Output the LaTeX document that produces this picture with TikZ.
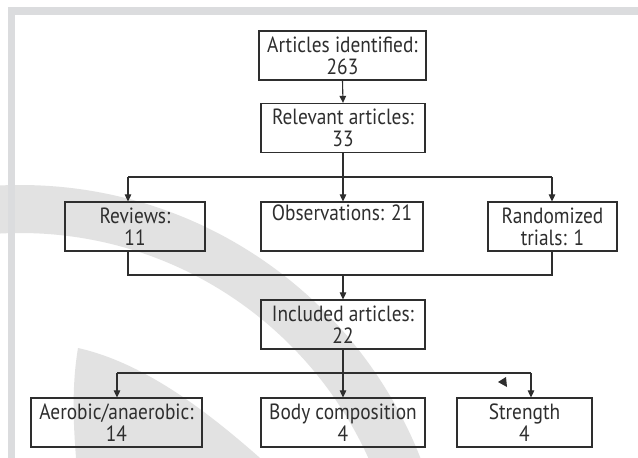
\documentclass[tikz,border=0pt]{standalone}
\usepackage{fontspec}
\setmainfont[FakeStretch=0.88]{PT Sans}
\usetikzlibrary{arrows.meta}
\definecolor{frameg}{HTML}{DBDCDE}
\definecolor{markg}{HTML}{E2E2E2}
\definecolor{ink}{HTML}{2E2E2E}
\begin{document}
\begin{tikzpicture}[x=1pt,y=-1pt,
  box/.style={draw=ink, line width=1.2pt, align=center, inner sep=0pt,
    minimum height=49pt, font=\fontsize{22}{22}\selectfont, text=ink},
  ln/.style={draw=ink, line width=1.1pt},
  arr/.style={ln, -{Triangle[length=7pt,width=6.5pt]}}]
\useasboundingbox (0,0) rectangle (638,458);
\fill[white] (0,0) rectangle (638,458);
% watermark
\begin{scope}
  \clip (0,0) rectangle (638,458);
  \fill[markg, even odd rule] (20,615) circle (430pt) (20,615) circle (382pt);
  \fill[markg] (78,348) .. controls (71,390) and (74,430) .. (76,458)
     -- (260,458) .. controls (200,405) and (140,362) .. (78,348) -- cycle;
\end{scope}
% frame
\fill[frameg] (8,7) rectangle (638,15);
\fill[frameg] (8,7) rectangle (15,458);
% nodes
\node[box, minimum width=167pt] (art) at (342.5,55.5) {Articles identified:\\263};
\node[box, minimum width=164pt] (rel) at (343,128) {Relevant articles:\\33};
\node[box, minimum width=140pt] (rev) at (135,226.5) {Reviews:\\11};
\node[box, minimum width=162pt] (obs) at (342,226.5) {Observations: 21\\\strut};
\node[box, minimum width=129pt] (rnd) at (552.5,226.5) {Randomized\\trials: 1};
\node[box, minimum width=164pt] (inc) at (343,324.5) {Included articles:\\22};
\node[box, minimum width=171pt] (aer) at (116.5,422.5) {Aerobic/anaerobic:\\14};
\node[box, minimum width=164pt] (bod) at (343,422.5) {Body composition\\4};
\node[box, minimum width=135pt] (str) at (524.5,422.5) {Strength\\4};
% junction coordinates
\coordinate (r1) at (128,177);
\coordinate (rc) at (343,177);
\coordinate (r3) at (552,177);
\coordinate (m1) at (128,275);
\coordinate (mc) at (343,275);
\coordinate (m3) at (552,275);
\coordinate (b1) at (117,373);
\coordinate (b3) at (531,373);
% connectors
\draw[arr] (art.south) -- (rel.north);
\draw[ln] (rel.south) -- (rc);
\draw[ln] (r1) -- (r3);
\draw[arr] (r1) -- (r1 |- rev.north);
\draw[arr] (rc) -- (rc |- obs.north);
\draw[arr] (r3) -- (r3 |- rnd.north);
\draw[ln] (m1 |- rev.south) -- (m1) -- (m3) -- (m3 |- rnd.south);
\draw[arr] (mc) -- (inc.north);
\draw[arr] (inc.south) -- (bod.north);
\draw[ln] (b1) -- (b3);
\draw[arr] (b1) -- (b1 |- aer.north);
\draw[arr] (b3) -- (b3 |- str.north);
% stray arrowhead
\fill[ink] (498,382) -- (506,377) -- (507,387) -- cycle;
\end{tikzpicture}
\end{document}
